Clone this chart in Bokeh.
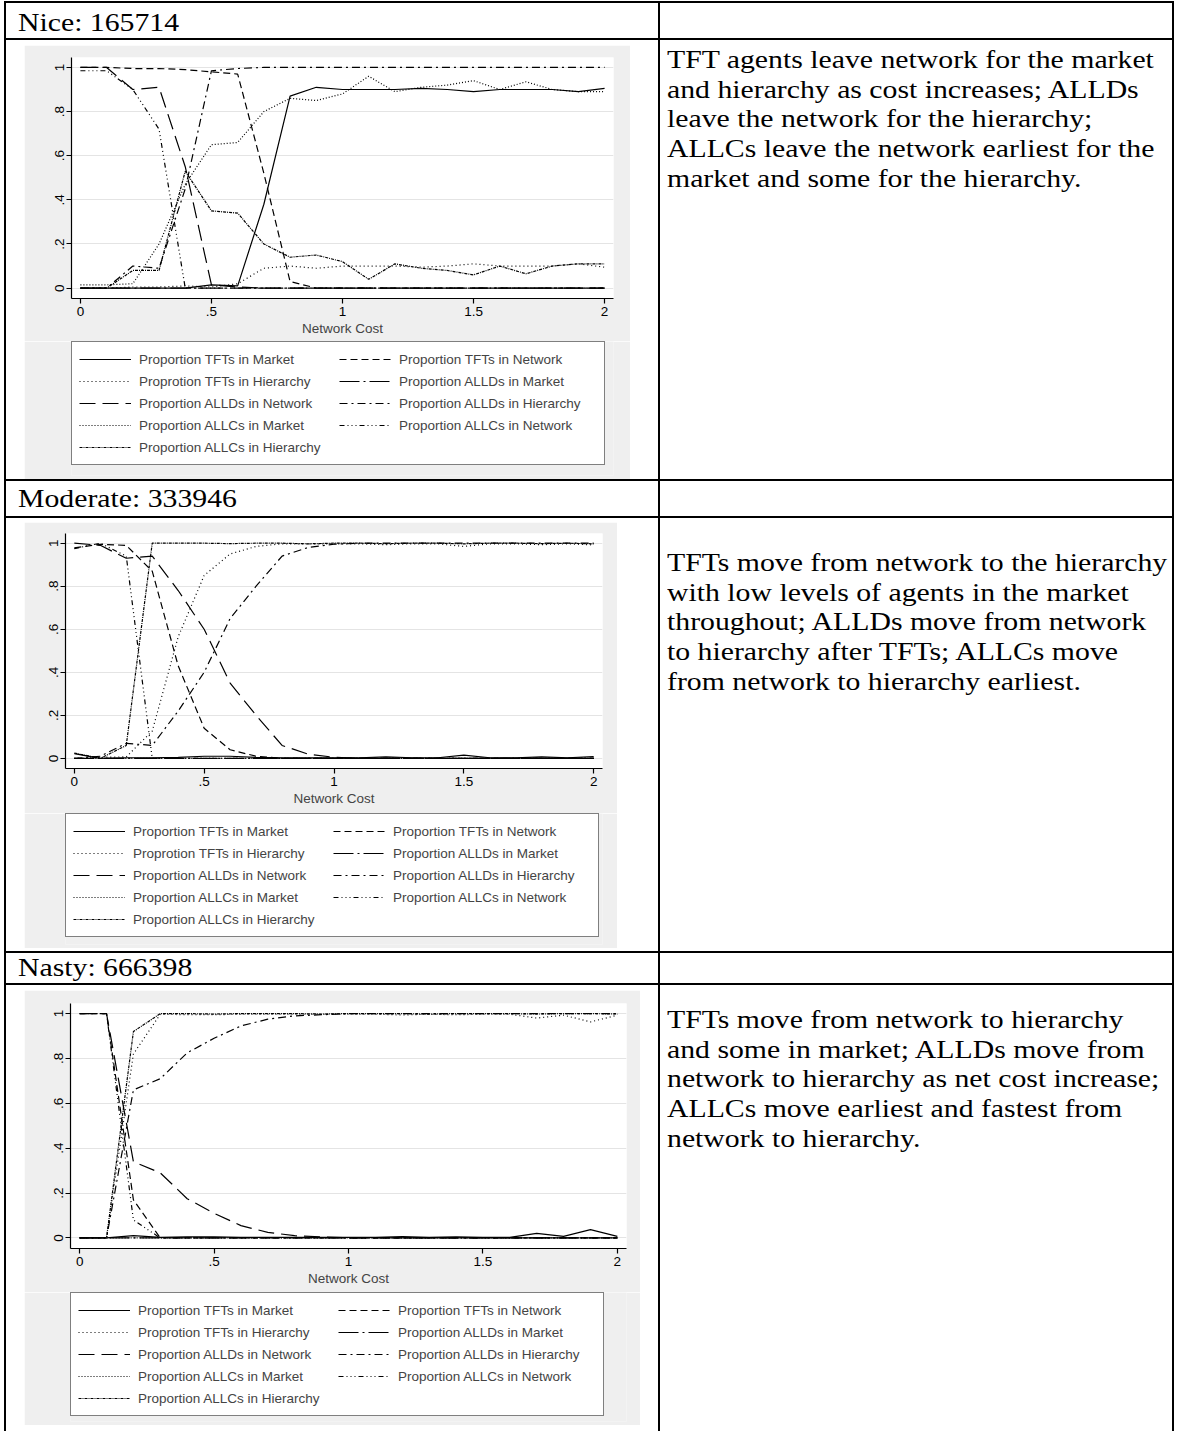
from bokeh.plotting import figure
from bokeh.models import Range1d, FixedTicker, Legend, LegendItem, Div
from bokeh.layouts import column, row
from bokeh.embed import file_html
from bokeh.resources import INLINE

# ---------------- data ----------------
COST = [0.0, 0.1, 0.2, 0.3, 0.4, 0.5, 0.6, 0.7, 0.8, 0.9, 1.0,
        1.1, 1.2, 1.3, 1.4, 1.5, 1.6, 1.7, 1.8, 1.9, 2.0]

SERIES_LABELS = [
    "Proportion TFTs in Market", "Proportion TFTs in Network",
    "Proprotion TFTs in Hierarchy", "Proportion ALLDs in Market",
    "Proportion ALLDs in Network", "Proportion ALLDs in Hierarchy",
    "Proportion ALLCs in Market", "Proportion ALLCs in Network",
    "Proportion ALLCs in Hierarchy",
]

X_TICKS = [0, 0.5, 1, 1.5, 2]
X_TICK_LABELS = ["0", ".5", "1", "1.5", "2"]
Y_TICKS = [0, 0.2, 0.4, 0.6, 0.8, 1]
Y_TICK_LABELS = ["0", ".2", ".4", ".6", ".8", "1"]

# Nice: 165714
nice_tft_market = [0, 0, 0, 0, 0, 0.015, 0.01, 0.38, 0.87, 0.91, 0.90, 0.90, 0.90, 0.905, 0.90, 0.89, 0.90, 0.90, 0.90, 0.89, 0.905]
nice_tft_network = [1.0, 1.0, 0.995, 0.995, 0.99, 0.98, 0.97, 0.52, 0.03, 0, 0, 0, 0, 0, 0, 0, 0, 0, 0, 0, 0]
nice_tft_hierarchy = [0, 0, 0.005, 0.005, 0.01, 0.005, 0.02, 0.09, 0.10, 0.09, 0.10, 0.10, 0.10, 0.095, 0.10, 0.11, 0.10, 0.10, 0.10, 0.11, 0.095]
nice_alld_market = [0, 0, 0, 0, 0, 0, 0, 0, 0, 0, 0, 0, 0, 0, 0, 0, 0, 0, 0, 0, 0]
nice_alld_network = [1.0, 1.0, 0.90, 0.91, 0.55, 0.015, 0.005, 0, 0, 0, 0, 0, 0, 0, 0, 0, 0, 0, 0, 0, 0]
nice_alld_hierarchy = [0, 0, 0.10, 0.09, 0.45, 0.985, 0.995, 1, 1, 1, 1, 1, 1, 1, 1, 1, 1, 1, 1, 1, 1]
nice_allc_market = [0.015, 0.015, 0.02, 0.20, 0.47, 0.65, 0.66, 0.80, 0.86, 0.85, 0.88, 0.96, 0.89, 0.91, 0.92, 0.94, 0.90, 0.935, 0.90, 0.89, 0.89]
nice_allc_network = [0.985, 0.985, 0.90, 0.72, 0, 0, 0, 0, 0, 0, 0, 0, 0, 0, 0, 0, 0, 0, 0, 0, 0]
nice_allc_hierarchy = [0, 0, 0.08, 0.08, 0.53, 0.35, 0.34, 0.20, 0.14, 0.15, 0.12, 0.04, 0.11, 0.09, 0.08, 0.06, 0.10, 0.065, 0.10, 0.11, 0.11]

# Moderate: 333946
mod_tft_market = [0.022, 0.0, 0.003, 0.003, 0.005, 0.01, 0.01, 0.005, 0.003, 0.003, 0.003, 0.003, 0.007, 0.003, 0.003, 0.015, 0.003, 0.003, 0.007, 0.003, 0.008]
mod_tft_network = [0.978, 0.995, 0.99, 0.87, 0.43, 0.14, 0.04, 0.01, 0, 0, 0, 0, 0, 0, 0, 0, 0, 0, 0, 0, 0]
mod_tft_hierarchy = [0.0, 0.005, 0.007, 0.127, 0.565, 0.85, 0.95, 0.985, 0.997, 0.997, 0.997, 0.997, 0.993, 0.997, 0.997, 0.985, 0.997, 0.997, 0.993, 0.997, 0.992]
mod_alld_market = [0, 0, 0, 0, 0, 0, 0, 0, 0, 0, 0, 0, 0, 0, 0, 0, 0, 0, 0, 0, 0]
mod_alld_network = [1.0, 0.99, 0.93, 0.94, 0.78, 0.60, 0.35, 0.20, 0.06, 0.02, 0.005, 0, 0, 0, 0, 0, 0, 0, 0, 0, 0]
mod_alld_hierarchy = [0.0, 0.01, 0.07, 0.06, 0.22, 0.40, 0.65, 0.80, 0.94, 0.98, 0.995, 1, 1, 1, 1, 1, 1, 1, 1, 1, 1]
mod_allc_market = [0, 0, 0, 0, 0, 0, 0, 0, 0, 0, 0, 0, 0, 0, 0, 0, 0, 0, 0, 0, 0]
mod_allc_network = [0.975, 1.0, 0.94, 0, 0, 0, 0, 0, 0, 0, 0, 0, 0, 0, 0, 0, 0, 0, 0, 0, 0]
mod_allc_hierarchy = [0.025, 0.0, 0.06, 1.0, 1.0, 1.0, 0.998, 1.0, 1.0, 0.997, 1.0, 1.0, 0.998, 1.0, 1.0, 0.997, 1.0, 1.0, 0.998, 1.0, 0.997]

# Nasty: 666398
nasty_tft_market = [0.0, 0.0, 0.01, 0.003, 0.005, 0.005, 0.003, 0.003, 0.003, 0.003, 0.003, 0.003, 0.006, 0.003, 0.005, 0.003, 0.003, 0.02, 0.007, 0.037, 0.007]
nasty_tft_network = [1.0, 1.0, 0.17, 0, 0, 0, 0, 0, 0, 0, 0, 0, 0, 0, 0, 0, 0, 0, 0, 0, 0]
nasty_tft_hierarchy = [0.0, 0.0, 0.82, 0.997, 0.995, 0.995, 0.997, 0.997, 0.997, 0.997, 0.997, 0.997, 0.994, 0.997, 0.995, 0.997, 0.997, 0.98, 0.993, 0.963, 0.993]
nasty_alld_market = [0, 0, 0, 0, 0, 0, 0, 0, 0, 0, 0, 0, 0, 0, 0, 0, 0, 0, 0, 0, 0]
nasty_alld_network = [1.0, 1.0, 0.34, 0.29, 0.175, 0.11, 0.055, 0.025, 0.01, 0.005, 0, 0, 0, 0, 0, 0, 0, 0, 0, 0, 0]
nasty_alld_hierarchy = [0.0, 0.0, 0.66, 0.71, 0.825, 0.89, 0.945, 0.975, 0.99, 0.995, 1, 1, 1, 1, 1, 1, 1, 1, 1, 1, 1]
nasty_allc_market = [0, 0, 0, 0, 0, 0, 0, 0, 0, 0, 0, 0, 0, 0, 0, 0, 0, 0, 0, 0, 0]
nasty_allc_network = [1.0, 1.0, 0.08, 0, 0, 0, 0, 0, 0, 0, 0, 0, 0, 0, 0, 0, 0, 0, 0, 0, 0]
nasty_allc_hierarchy = [0.0, 0.0, 0.92, 1.0, 1.0, 0.998, 1.0, 1.0, 1.0, 0.998, 1.0, 1.0, 1.0, 0.998, 1.0, 1.0, 1.0, 0.998, 1.0, 1.0, 0.998]

HEADERS = ["Nice: 165714", "Moderate: 333946", "Nasty: 666398"]
NOTES = [
    ["TFT agents leave network for the market",
     "and hierarchy as cost increases; ALLDs",
     "leave the network for the hierarchy;",
     "ALLCs leave the network earliest for the",
     "market and some for the hierarchy."],
    ["TFTs move from network to the hierarchy",
     "with low levels of agents in the market",
     "throughout; ALLDs move from network",
     "to hierarchy after TFTs; ALLCs move",
     "from network to hierarchy earliest."],
    ["TFTs move from network to hierarchy",
     "and some in market; ALLDs move from",
     "network to hierarchy as net cost increase;",
     "ALLCs move earliest and fastest from",
     "network to hierarchy."],
]

# ---------------- styling ----------------
DASHES = ["solid", "7 4", "1 3", "20 4 2 4", "16 7", "8 4 2 4", "1 2", "5 3 1 3 1 3 1 3", "3 1 1 1"]
GRAY = "#efefef"
FONT = "Liberation Sans"
SERIF = "Liberation Serif"
LINE_W = 1.2


def make_chart(series, w, h, mb, margin):
    """Plot area with axes (upper part of the grey chart box)."""
    left, right, top, bottom = mb
    p = figure(width=w, height=h, output_backend="svg", toolbar_location=None,
               x_range=Range1d(-0.034, 2.034), y_range=Range1d(-0.047, 1.045),
               min_border_left=left, min_border_right=right,
               min_border_top=top, min_border_bottom=bottom,
               background_fill_color="white", border_fill_color=GRAY,
               outline_line_color=None, margin=margin)
    for ys, dash in zip(series, DASHES):
        p.line(COST, ys, line_color="black", line_width=LINE_W, line_dash=dash)

    p.xaxis.ticker = FixedTicker(ticks=X_TICKS)
    p.xaxis.major_label_overrides = {t: s for t, s in zip(X_TICKS, X_TICK_LABELS)}
    p.yaxis.ticker = FixedTicker(ticks=Y_TICKS)
    p.yaxis.major_label_overrides = {t: s for t, s in zip(Y_TICKS, Y_TICK_LABELS)}
    p.yaxis.major_label_orientation = "vertical"
    p.xaxis.axis_label = "Network Cost"
    for ax in (p.xaxis[0], p.yaxis[0]):
        ax.axis_line_color = "black"
        ax.axis_line_width = 1.2
        ax.major_tick_line_color = "black"
        ax.major_tick_line_width = 1.2
        ax.major_tick_out = 5
        ax.major_tick_in = 0
        ax.minor_tick_out = 0
        ax.minor_tick_in = 0
        ax.major_label_text_font = FONT
        ax.major_label_text_font_size = "13.5px"
        ax.major_label_text_color = "black"
        ax.major_label_standoff = 3
        ax.axis_label_text_font = FONT
        ax.axis_label_text_font_size = "13.5px"
        ax.axis_label_text_font_style = "normal"
        ax.axis_label_standoff = 2
    p.yaxis.major_label_standoff = 2
    p.xgrid.visible = False
    p.ygrid.ticker = FixedTicker(ticks=Y_TICKS)
    p.ygrid.grid_line_color = "#e4e4e4"
    p.ygrid.grid_line_width = 1
    return p


def make_legend_panel(series, w, h, left, margin):
    """Lower part of the grey chart box holding the Stata-style key.
    The series are drawn here too, but outside the visible range, so that the
    key swatches come from real line renderers."""
    p = figure(width=w, height=h, output_backend="svg", toolbar_location=None,
               x_range=Range1d(-20, -19), y_range=Range1d(-20, -19),
               x_axis_location=None, y_axis_location=None,
               min_border_left=left, min_border_right=8,
               min_border_top=0, min_border_bottom=4,
               background_fill_color=GRAY, border_fill_color=GRAY,
               outline_line_color=None, margin=margin)
    p.grid.visible = False
    items = []
    for label, ys, dash in zip(SERIES_LABELS, series, DASHES):
        r = p.line(COST, ys, line_color="black", line_width=LINE_W, line_dash=dash)
        items.append(LegendItem(label=label, renderers=[r]))
    order = [0, 2, 4, 6, 8, 1, 3, 5, 7]
    legend = Legend(items=[items[i] for i in order], orientation="vertical", nrows=5,
                    location="top_left", margin=0, padding=7, spacing=2,
                    glyph_width=52, glyph_height=20, label_height=20,
                    label_width=198, label_standoff=8,
                    label_text_font=FONT, label_text_font_size="13.5px",
                    border_line_color="black", border_line_width=1.3,
                    background_fill_color="white", background_fill_alpha=1.0)
    p.add_layout(legend, "center")
    return p


def hline(w):
    return Div(text="", width=w, height=2, margin=0, styles={"background-color": "black"})


def vline(h):
    return Div(text="", width=2, height=h, margin=0, styles={"background-color": "black"})


def text_cell(lines, w, h, pad_top, pad_left):
    body = "<br>".join(lines)
    html = (f'<div style="padding:{pad_top}px 0 0 {pad_left}px;">'
            f'<div style="font-family:\'{SERIF}\',serif;font-size:25px;line-height:29.7px;'
            f'white-space:nowrap;color:#000;transform:scaleX(1.19);transform-origin:0 0;">'
            f'{body}</div></div>')
    return Div(text=html, width=w, height=h, margin=0)


LEFT_W = 652
RIGHT_W = 512
TOTAL_W = 2 + LEFT_W + 2 + RIGHT_W + 2

all_series = [
    [nice_tft_market, nice_tft_network, nice_tft_hierarchy,
     nice_alld_market, nice_alld_network, nice_alld_hierarchy,
     nice_allc_market, nice_allc_network, nice_allc_hierarchy],
    [mod_tft_market, mod_tft_network, mod_tft_hierarchy,
     mod_alld_market, mod_alld_network, mod_alld_hierarchy,
     mod_allc_market, mod_allc_network, mod_allc_hierarchy],
    [nasty_tft_market, nasty_tft_network, nasty_tft_hierarchy,
     nasty_alld_market, nasty_alld_network, nasty_alld_hierarchy,
     nasty_allc_market, nasty_allc_network, nasty_allc_hierarchy],
]

# per chart: grey width, plot-part height, legend-part height, min borders, cell margins, legend left
chart_specs = [
    dict(w=606, h1=296, h2=138, mb=(42, 17, 12, 43), top=5, bot=0, side=(28, 18), lleft=47),
    dict(w=593, h1=291, h2=135, mb=(41, 15, 11, 45), top=4, bot=3, side=(41, 18), lleft=41),
    dict(w=616, h1=302, h2=133, mb=(43, 14, 13, 44), top=5, bot=6, side=(18, 18), lleft=46),
]

cells = []
for s, series in zip(chart_specs, all_series):
    r_m, l_m = s["side"]
    top_fig = make_chart(series, s["w"], s["h1"], s["mb"], (s["top"], r_m, 0, l_m))
    bot_fig = make_legend_panel(series, s["w"], s["h2"], s["lleft"], (0, r_m, s["bot"], l_m))
    cells.append(column(top_fig, bot_fig))

header_h = [35, 35, 30]
header_pad = [5, 3, 0]
chart_h = [439, 433, 446]
note_pad = [5, 30, 20]

rows = []
for i in range(3):
    rows.append(hline(TOTAL_W))
    hh = header_h[i]
    rows.append(row(vline(hh), text_cell([HEADERS[i]], LEFT_W, hh, header_pad[i], 12),
                    vline(hh), Div(text="", width=RIGHT_W, height=hh, margin=0), vline(hh)))
    rows.append(hline(TOTAL_W))
    ch = chart_h[i]
    rows.append(row(vline(ch), cells[i], vline(ch),
                    text_cell(NOTES[i], RIGHT_W, ch, note_pad[i], 7), vline(ch)))

page = column(*rows, margin=(1, 0, 0, 4))

with open("out.html", "w") as f:
    f.write(file_html(page, INLINE))
